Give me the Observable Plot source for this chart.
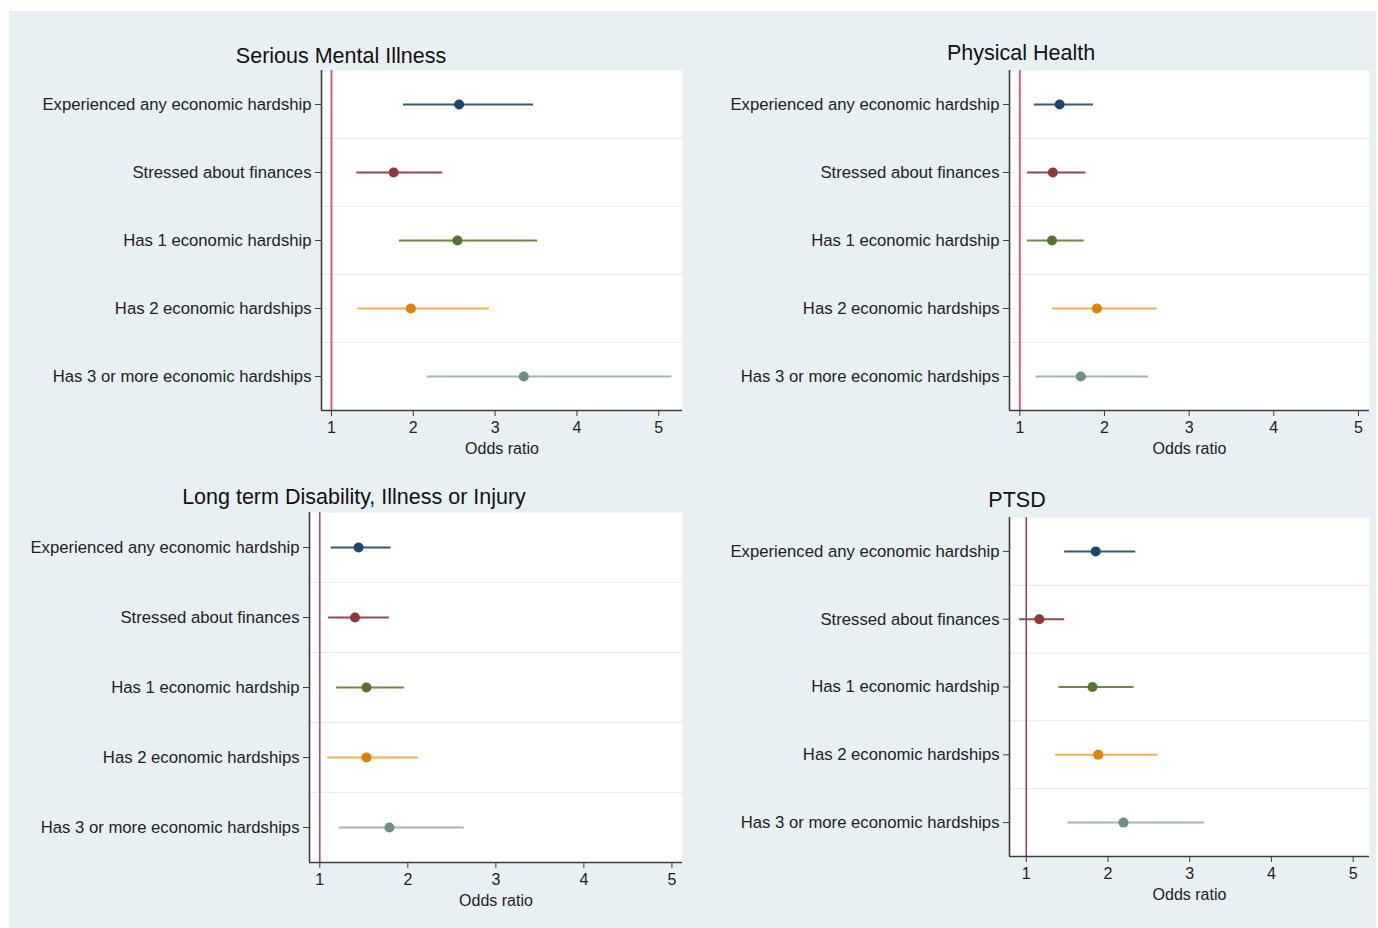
<!DOCTYPE html>
<html>
<head>
<meta charset="utf-8">
<script src="https://cdn.jsdelivr.net/npm/d3@7"></script>
<script src="https://cdn.jsdelivr.net/npm/@observablehq/plot@0.6"></script>
<style>
  html, body { margin: 0; padding: 0; background: #ffffff; }
  #page { position: relative; width: 1378px; height: 928px; background: #ffffff; overflow: hidden;
          font-family: "Liberation Sans", Arial, sans-serif; }
  #bg { position: absolute; left: 9px; top: 11px; width: 1367px; height: 917px; background: #e8f0f3; }
  .panel { position: absolute; }
  .ptitle { position: absolute; font-size: 21.5px; color: #111; white-space: nowrap; transform: translate(-50%, -50%); }
</style>
</head>
<body>
<div id="page"><div id="bg"></div></div>
<script>
// ---------- data ----------
const categories = [
  "Experienced any economic hardship",
  "Stressed about finances",
  "Has 1 economic hardship",
  "Has 2 economic hardships",
  "Has 3 or more economic hardships"
];
const xTicks = [1, 2, 3, 4, 5];

const smiOR = [2.56, 1.76, 2.54, 1.97, 3.35];
const smiLo = [1.88, 1.31, 1.83, 1.32, 2.17];
const smiHi = [3.47, 2.36, 3.52, 2.93, 5.16];

const physOR = [1.47, 1.39, 1.38, 1.91, 1.72];
const physLo = [1.17, 1.09, 1.09, 1.39, 1.19];
const physHi = [1.87, 1.78, 1.76, 2.62, 2.52];

const disOR = [1.44, 1.40, 1.53, 1.53, 1.79];
const disLo = [1.13, 1.10, 1.19, 1.09, 1.22];
const disHi = [1.81, 1.79, 1.96, 2.12, 2.64];

const ptsdOR = [1.85, 1.16, 1.81, 1.88, 2.19];
const ptsdLo = [1.47, 0.92, 1.40, 1.36, 1.51];
const ptsdHi = [2.34, 1.47, 2.32, 2.61, 3.18];

const titles = ["Serious Mental Illness", "Physical Health", "Long term Disability, Illness or Injury", "PTSD"];

// ---------- styles ----------
const dotColors  = ["#1a476f", "#90353b", "#55752f", "#e37e00", "#6e8e84"];
const lineColors = ["#3a5a6e", "#8e4b55", "#6d8746", "#e8b25a", "#a2b7b0"];

const panels = [
  { title: titles[0], or: smiOR,  lo: smiLo,  hi: smiHi,  left: 0,   top: 40,  plotL: 321,  plotR: 682,  plotT: 70,  plotB: 410, xdom: [0.878, 5.29], ref: "#d9607c", refW: 2,   tx: 341,  ty: 56 },
  { title: titles[1], or: physOR, lo: physLo, hi: physHi, left: 700, top: 40,  plotL: 1009, plotR: 1369, plotT: 70,  plotB: 410, xdom: [0.878, 5.13], ref: "#d9607c", refW: 2,   tx: 1021, ty: 53 },
  { title: titles[2], or: disOR,  lo: disLo,  hi: disHi,  left: 0,   top: 480, plotL: 309,  plotR: 682,  plotT: 512, plotB: 862, xdom: [0.883, 5.12], ref: "#a8485e", refW: 1.5, tx: 354,  ty: 497 },
  { title: titles[3], or: ptsdOR, lo: ptsdLo, hi: ptsdHi, left: 700, top: 480, plotL: 1009, plotR: 1369, plotT: 517, plotB: 856, xdom: [0.795, 5.2],  ref: "#9b3a50", refW: 1.5, tx: 1017, ty: 500 }
];

const page = document.getElementById("page");
const n = categories.length;
const idx = d3.range(n);

for (const p of panels) {
  const rows = idx.map(i => ({ i, cat: categories[i], or: p.or[i], lo: p.lo[i], hi: p.hi[i] }));
  const marginLeft = p.plotL - p.left;
  const marginTop = p.plotT - p.top;
  const marginRight = 8;
  const marginBottom = 54;
  const width = p.plotR - p.left + marginRight;
  const height = (p.plotB - p.top) + marginBottom;

  const chart = Plot.plot({
    width, height, marginLeft, marginTop, marginRight, marginBottom,
    style: { background: "transparent", fontFamily: "'Liberation Sans', Arial, sans-serif", color: "#222" },
    x: { domain: p.xdom, ticks: xTicks },
    y: { domain: [n - 0.5, -0.5] },
    marks: [
      Plot.frame({ fill: "white", stroke: null }),
      Plot.ruleY(d3.range(1, n).map(i => i - 0.5), { stroke: "#ebebeb", strokeWidth: 1.2 }),
      Plot.ruleX([1], { stroke: p.ref, strokeWidth: p.refW }),
      Plot.ruleY(rows, { y: "i", x1: "lo", x2: "hi", stroke: d => lineColors[d.i], strokeWidth: 2 }),
      Plot.dot(rows, { x: "or", y: "i", r: 5, fill: d => dotColors[d.i], stroke: null }),
      Plot.ruleX([p.xdom[0]], { stroke: "#3c3c3c", strokeWidth: 1.6 }),
      Plot.ruleY([n - 0.5], { stroke: "#3c3c3c", strokeWidth: 1.6 }),
      Plot.axisY({ ticks: idx, tickFormat: i => categories[i], tickSize: 6, tickPadding: 4, fontSize: 16.7, label: null, stroke: "#3c3c3c" }),
      Plot.axisX({ ticks: xTicks, tickFormat: d3.format("d"), tickSize: 6, tickPadding: 5, fontSize: 16, label: "Odds ratio", labelAnchor: "center", labelArrow: "none", labelOffset: 43, fontVariant: "normal", stroke: "#3c3c3c" })
    ]
  });
  const wrap = document.createElement("div");
  wrap.className = "panel";
  wrap.style.left = p.left + "px";
  wrap.style.top = p.top + "px";
  wrap.appendChild(chart);
  page.appendChild(wrap);

  const t = document.createElement("div");
  t.className = "ptitle";
  t.textContent = p.title;
  t.style.left = p.tx + "px";
  t.style.top = p.ty + "px";
  page.appendChild(t);
}
</script>
</body>
</html>
